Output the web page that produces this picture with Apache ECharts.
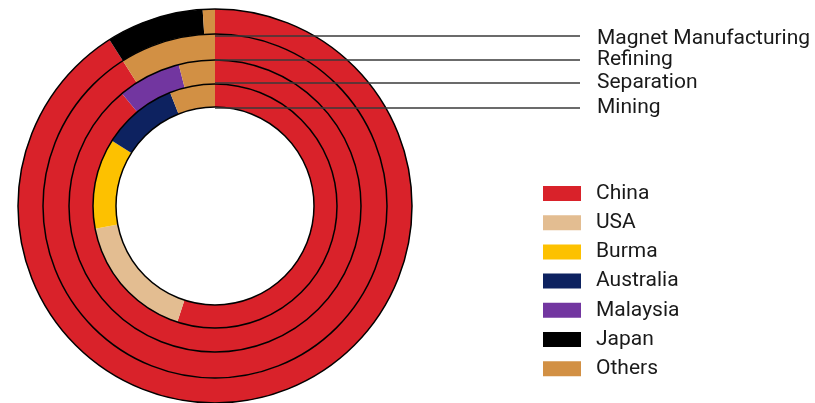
<!DOCTYPE html>
<html>
<head>
<meta charset="utf-8">
<script src="https://cdn.jsdelivr.net/npm/echarts@6/dist/echarts.min.js"></script>
<style>
  html, body { margin: 0; padding: 0; background: #fff; }
  #main { width: 815px; height: 403px; }
</style>
</head>
<body>
<div id="main"></div>
<script>
// 数据
var countries = ['China', 'USA', 'Burma', 'Australia', 'Malaysia', 'Japan', 'Others'];
var stages = ['Mining', 'Separation', 'Refining', 'Magnet Manufacturing'];
var mining = [55, 17, 12, 10, 0, 0, 6];
var separation = [89, 0, 0, 0, 7, 0, 4];
var refining = [91, 0, 0, 0, 0, 0, 9];
var magnet = [91, 0, 0, 0, 0, 8, 1];
var colors = ['#d9222a', '#e3bd91', '#fdc100', '#0d2260', '#7236a0', '#000000', '#d29044'];

// 布局
var cx = 215, cy = 206;
var radii = [99, 122, 146, 172, 197];
var stageValues = [mining, separation, refining, magnet];

var myChart = echarts.init(document.getElementById('main'));

var series = [];
for (var s = 0; s < stages.length; s++) {
    var d = [];
    for (var i = 0; i < countries.length; i++) {
        if (stageValues[s][i] > 0) {
            d.push({ name: countries[i], value: stageValues[s][i], itemStyle: { color: colors[i] } });
        }
    }
    series.push({
        type: 'pie',
        name: stages[s],
        center: [cx, cy],
        radius: [radii[s], radii[s + 1]],
        startAngle: 90,
        clockwise: true,
        silent: true,
        label: { show: false },
        labelLine: { show: false },
        itemStyle: { borderWidth: 0 },
        data: d
    });
}

var graphics = [];
// 圆环边线
for (var r = 0; r < radii.length; r++) {
    graphics.push({
        type: 'circle', z: 100,
        shape: { cx: cx, cy: cy, r: radii[r] },
        style: { fill: 'none', stroke: '#000', lineWidth: 1.5 }
    });
}
// 引线和标签
var lineOffset = [1, -1, 0, 2];
var labelOffset = [0, 0, 0, 3];
for (var s = 0; s < stages.length; s++) {
    var ly = cy - radii[s] + lineOffset[s];
    graphics.push({
        type: 'line', z: 101,
        shape: { x1: cx, y1: ly, x2: 580, y2: ly },
        style: { stroke: '#3a3a3a', lineWidth: 1.5 }
    });
    graphics.push({
        type: 'text', z: 101,
        x: 597, y: ly + labelOffset[s],
        style: {
            text: stages[s], fill: '#1a1a1a',
            font: '21px Roboto', textVerticalAlign: 'middle', verticalAlign: 'middle'
        }
    });
}

var option = {
    animation: false,
    backgroundColor: '#fff',
    color: colors,
    legend: {
        orient: 'vertical',
        left: 538,
        top: 178,
        data: countries,
        icon: 'rect',
        itemWidth: 38,
        itemHeight: 15,
        itemGap: 8.2,
        selectedMode: false,
        textStyle: { fontFamily: 'Roboto', fontSize: 21, lineHeight: 20, color: '#1a1a1a', padding: [0, 0, 0, 10] }
    },
    graphic: graphics,
    series: series
};
myChart.setOption(option);
</script>
</body>
</html>
